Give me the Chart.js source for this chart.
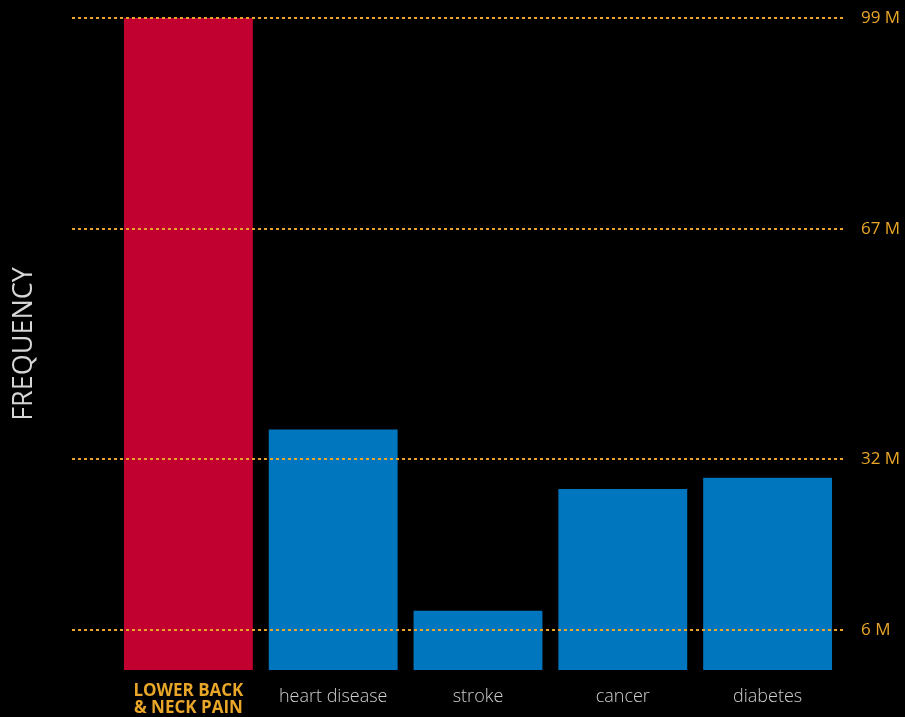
<!DOCTYPE html>
<html>
<head>
<meta charset="utf-8">
<script src="https://cdn.jsdelivr.net/npm/chart.js@4.4.1/dist/chart.umd.min.js"></script>
<style>
  html, body { margin: 0; padding: 0; background: #000; }
  #wrap { width: 905px; height: 717px; }
</style>
</head>
<body>
<div id="wrap"><canvas id="frequency_chart"></canvas></div>
<script>
var categories = [['LOWER BACK', '& NECK PAIN'], 'heart disease', 'stroke', 'cancer', 'diabetes'];
var frequency = [99, 36.5, 9, 27.5, 29.2];
var barColors = ['#c10230', '#0076be', '#0076be', '#0076be', '#0076be'];
var tickValues = [6, 32, 67, 99];
var tickLabels = ['6 M', '32 M', '67 M', '99 M'];

var ORANGE = '#eaa628';

// dotted reference lines, drawn over the bars and a bit wider than the plot
var dottedGrid = {
    id: 'dottedGrid',
    afterDatasetsDraw: function (chart) {
        var ctx = chart.ctx;
        var y = chart.scales.y;
        ctx.save();
        ctx.strokeStyle = ORANGE;
        ctx.lineWidth = 2;
        ctx.setLineDash([3, 3]);
        tickValues.forEach(function (v) {
            var py = Math.round(y.getPixelForValue(v));
            ctx.beginPath();
            ctx.moveTo(72, py);
            ctx.lineTo(846, py);
            ctx.stroke();
        });
        ctx.restore();
    }
};

var ctx = document.getElementById('frequency_chart');
var myChart = new Chart(ctx, {
    type: 'bar',
    data: {
        labels: categories,
        datasets: [{
            data: frequency,
            backgroundColor: barColors,
            borderWidth: 0,
            barPercentage: 0.89,
            categoryPercentage: 1
        }]
    },
    options: {
        responsive: true,
        maintainAspectRatio: false,
        animation: false,
        layout: { padding: { top: 18, left: 0, right: 0, bottom: 0 } },
        plugins: {
            legend: { display: false },
            tooltip: { enabled: false }
        },
        scales: {
            x: {
                grid: { display: false },
                border: { display: false },
                ticks: {
                    padding: 13,
                    maxRotation: 0,
                    autoSkip: false,
                    crossAlign: 'center',
                    color: function (c) { return c.index === 0 ? ORANGE : '#cfcfcf'; },
                    font: function (c) {
                        return c.index === 0
                            ? { family: 'Open Sans', size: 17, weight: '700', lineHeight: 1.0 }
                            : { family: 'Open Sans', size: 18, weight: '300', lineHeight: 1.2 };
                    }
                },
                afterFit: function (s) { s.height = 47; }
            },
            y: {
                position: 'right',
                min: 0,
                max: 99,
                grid: { display: false },
                border: { display: false },
                afterBuildTicks: function (s) {
                    s.ticks = tickValues.map(function (v) { return { value: v }; });
                },
                ticks: {
                    padding: 13,
                    color: ORANGE,
                    font: { family: 'Open Sans', size: 17 },
                    callback: function (v) { return tickLabels[tickValues.indexOf(v)]; }
                },
                afterFit: function (s) {
                    s.width = 65;
                    s.paddingTop = 0;
                    s.paddingBottom = 0;
                }
            },
            yTitle: {
                position: 'left',
                min: 0,
                max: 99,
                grid: { display: false },
                border: { display: false },
                ticks: { display: false },
                title: {
                    display: true,
                    text: 'FREQUENCY',
                    color: '#d6d6d6',
                    font: { family: 'Open Sans', size: 27, weight: '400', lineHeight: 1.2 },
                    padding: { top: 8, bottom: 0 }
                },
                afterFit: function (s) { s.width = 116; }
            }
        }
    },
    plugins: [dottedGrid]
});
</script>
</body>
</html>
